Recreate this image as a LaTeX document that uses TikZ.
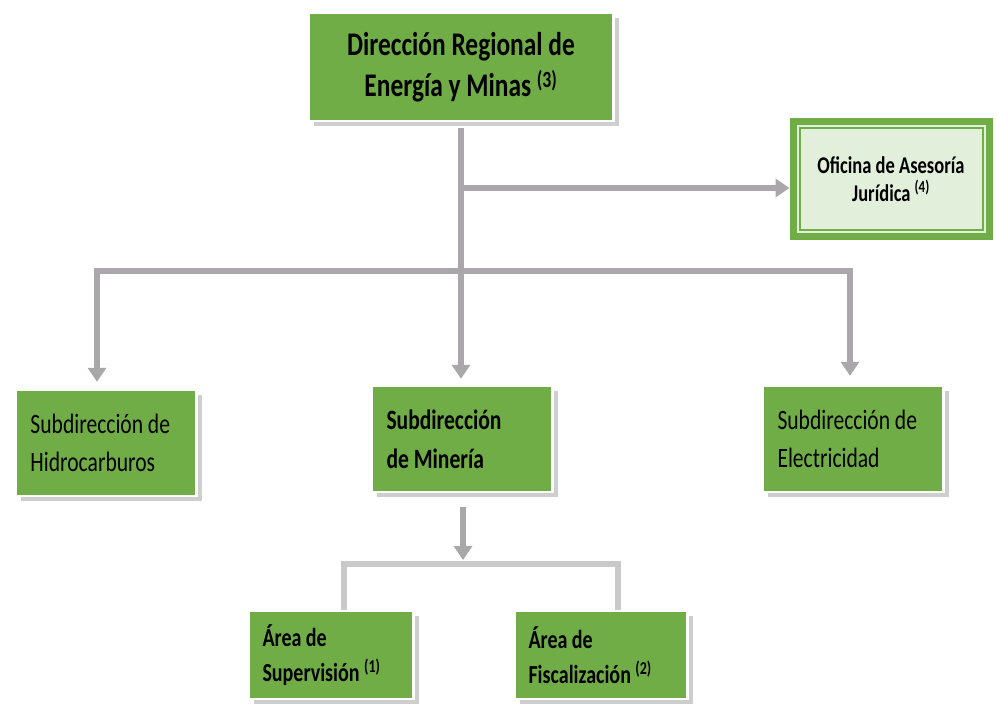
\documentclass[tikz,border=0pt]{standalone}
\usepackage{fontspec}
\setmainfont{Carlito}[FakeStretch=0.77]
\usetikzlibrary{positioning,arrows.meta,shadows,calc}
\definecolor{boxgreen}{HTML}{70AD47}
\definecolor{palegreen}{HTML}{E2EFDA}
\definecolor{linegray}{HTML}{A9A7A9}
\definecolor{bargray}{HTML}{C9C9C9}

\begin{document}
\begin{tikzpicture}[x=1pt,y=-1pt,
	box/.style={fill=boxgreen, draw=white, line width=2.5pt, inner sep=0pt,
		drop shadow={shadow xshift=5pt, shadow yshift=-5pt, fill=black!38}},
	subbox/.style={box, minimum width=181pt, minimum height=106pt, text width=151pt, align=flush left},
	areabox/.style={box, minimum height=88pt, align=flush left, font=\fontsize{26}{35}\selectfont\bfseries},
	link/.style={draw=linegray, line width=6pt},
	bar/.style={draw=bargray, line width=6pt},
	tip/.style={-{Triangle[width=18pt,length=14pt]}}]
	\useasboundingbox (0,0) rectangle (997,709);
	
	%Nodes
	\node[box, minimum width=305pt, minimum height=108pt, align=center, font=\fontsize{33}{41}\selectfont\bfseries] (dir) at (461,67) {Dirección Regional de\\Energía y Minas \textsuperscript{(3)}};
	\node[fill=palegreen, draw=boxgreen, line width=7pt, minimum width=196pt, minimum height=115pt, inner sep=0pt, align=center, font=\fontsize{24}{28}\selectfont\bfseries] (jur) at (891,179) {Oficina de Asesoría\\Jurídica \textsuperscript{(4)}};
	\draw[boxgreen, line width=2pt] ($(jur.north west)+(10,10)$) rectangle ($(jur.south east)+(-10,-10)$);
	
	\node[subbox, font=\fontsize{28}{38}\selectfont] (hid) at (106,443) {Subdirección de\\Hidrocarburos};
	\node[subbox, font=\fontsize{28}{39}\selectfont\bfseries] (min) at (462,439) {Subdirección\\de Minería};
	\node[subbox, font=\fontsize{28}{38}\selectfont] (ele) at (853,439) {Subdirección de\\Electricidad};
	
	\node[areabox, minimum width=165pt, text width=137pt] (sup) at (331,655) {Área de\\Supervisión \textsuperscript{(1)}};
	\node[areabox, minimum width=173pt, text width=145pt] (fis) at (601,655) {Área de\\Fiscalización \textsuperscript{(2)}};
	
	\coordinate (bus) at (461,271);
	\coordinate (fork) at (463,564);
	\coordinate (jurin) at ([yshift=-9pt]jur.west);
	
	%Lines
	\draw[link, tip, shorten <=6pt, shorten >=6pt] (dir.south) -- (dir.south |- min.north);
	\draw[link, tip] (dir.south |- jurin) -- (jurin);
	\draw[link, tip, shorten >=7pt] (bus) -| ([xshift=-9pt]hid.north);
	\draw[link, tip, shorten >=9pt] (bus) -| ([xshift=-3pt]ele.north);
	\draw[link, tip, shorten <=14pt, shorten >=4pt] (min.south -| fork) -- (fork);
	\draw[bar] ([xshift=13pt]sup.north) |- (fork) -| ([xshift=17pt]fis.north);
\end{tikzpicture}
\end{document}
